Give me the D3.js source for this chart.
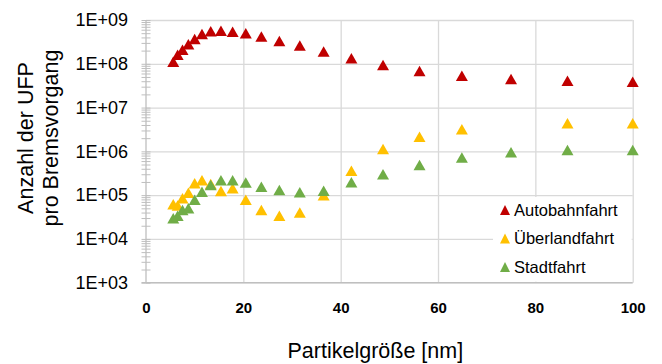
<!DOCTYPE html>
<html>
<head>
<meta charset="utf-8">
<script src="https://cdn.jsdelivr.net/npm/d3@7"></script>
<style>
	body{margin:0;background:#fff;}
	svg{display:block;font-family:"Liberation Sans",Arial,sans-serif;}
</style>
</head>
<body>
<div id="chart"></div>
<script>
// Partikelgrößen (Kanäle) in nm
const sizes = [5.6, 6.5, 7.5, 8.7, 10, 11.5, 13.3, 15.4, 17.8, 20.5, 23.7, 27.4, 31.6, 36.5, 42.2, 48.7, 56.2, 64.9, 75, 86.6, 100]

const autobahn = [1.12e8, 1.6e8, 2.1e8, 2.8e8, 3.7e8, 4.8e8, 5.5e8, 5.7e8, 5.4e8, 5.0e8, 4.2e8, 3.3e8, 2.6e8, 1.9e8, 1.33e8, 9.4e7, 6.8e7, 5.3e7, 4.5e7, 4.1e7, 3.9e7]
const ueberland = [6.2e4, 5.8e4, 8.5e4, 1.13e5, 1.86e5, 2.2e5, 1.8e5, 1.24e5, 1.43e5, 7.8e4, 4.6e4, 3.4e4, 4.0e4, 1.0e5, 3.6e5, 1.13e6, 2.16e6, 3.2e6, null, 4.4e6, 4.4e6]
const stadt = [2.95e4, 3.4e4, 4.6e4, 5.0e4, 7.8e4, 1.2e5, 1.7e5, 2.2e5, 2.2e5, 1.95e5, 1.56e5, 1.31e5, 1.16e5, 1.26e5, 1.96e5, 3.0e5, 4.9e5, 7.2e5, 9.5e5, 1.07e6, 1.07e6]

const seriesNames = ["Autobahnfahrt", "Überlandfahrt", "Stadtfahrt"]
const seriesColors = ["#C00000", "#FFC000", "#70AD47"]
const xTicks = [0, 20, 40, 60, 80, 100]
const yTicks = [1e3, 1e4, 1e5, 1e6, 1e7, 1e8, 1e9]

const W = 662, H = 364
const pLeft = 146, pRight = 632.7, pTop = 20, pBottom = 282.7

const svg = d3.select("#chart").append("svg")
	.attr("width", W).attr("height", H)

const x = d3.scaleLinear().domain([0, 100]).range([pLeft, pRight])
const y = d3.scaleLog().domain([1e3, 1e9]).range([pBottom, pTop])

// Dreieck, Bounding-Box um den Punkt zentriert
function tri(w, h){
	return "M0," + (-h/2) + "L" + (w/2) + "," + (h/2) + "L" + (-w/2) + "," + (h/2) + "Z"
}

// Gitter horizontal
svg.append("g")
	.attr("transform", "translate(" + pLeft + ",0)")
	.call(d3.axisLeft(y).tickValues(yTicks).tickSize(-(pRight - pLeft)).tickFormat(""))
	.call(g => g.select(".domain").remove())
	.call(g => g.selectAll("line").attr("stroke", "#d9d9d9").attr("stroke-width", 1.3))

// Gitter vertikal
svg.append("g")
	.attr("transform", "translate(0," + pBottom + ")")
	.call(d3.axisBottom(x).tickValues(xTicks.slice(1)).tickSize(-(pBottom - pTop)).tickFormat(""))
	.call(g => g.select(".domain").remove())
	.call(g => g.selectAll("line").attr("stroke", "#d9d9d9").attr("stroke-width", 1.3))

// Nebenstriche an der y-Achse
let minor = []
for (let e = 3; e < 9; e++){
	for (let m = 1; m < 10; m++) minor.push(m * Math.pow(10, e))
}
minor.push(1e9)
svg.append("g")
	.attr("transform", "translate(" + (pLeft + 4.5) + ",0)")
	.call(d3.axisLeft(y).tickValues(minor).tickSize(9).tickFormat(""))
	.call(g => g.select(".domain").remove())
	.call(g => g.selectAll("line").attr("stroke", "#bfbfbf").attr("stroke-width", 1))

// Achsenlinien
svg.append("line").attr("x1", pLeft).attr("x2", pLeft).attr("y1", pTop).attr("y2", pBottom)
	.attr("stroke", "#bfbfbf").attr("stroke-width", 1.3)
svg.append("line").attr("x1", pLeft - 4.5).attr("x2", pRight).attr("y1", pBottom).attr("y2", pBottom)
	.attr("stroke", "#bfbfbf").attr("stroke-width", 1.3)

// y-Beschriftung
svg.append("g")
	.attr("transform", "translate(" + (pLeft - 18) + ",0)")
	.call(d3.axisLeft(y).tickValues(yTicks).tickSize(0)
		.tickFormat(d => "1E+" + String(Math.round(Math.log10(d))).padStart(2, "0")))
	.call(g => g.select(".domain").remove())
	.call(g => g.selectAll("text").attr("font-size", 18).attr("fill", "#000")
		.attr("font-family", "Liberation Sans, Arial, sans-serif").attr("x", 0))

// x-Beschriftung
svg.append("g")
	.attr("transform", "translate(0," + (pBottom + 17) + ")")
	.call(d3.axisBottom(x).tickValues(xTicks).tickSize(0))
	.call(g => g.select(".domain").remove())
	.call(g => g.selectAll("text").attr("font-size", 15).attr("font-weight", "bold").attr("fill", "#000")
		.attr("font-family", "Liberation Sans, Arial, sans-serif"))

// Datenpunkte
const allSeries = [autobahn, ueberland, stadt]
allSeries.forEach((vals, i) => {
	const pts = sizes.map((s, k) => ({x: s, y: vals[k]})).filter(d => d.y != null)
	svg.append("g").selectAll("path")
		.data(pts)
		.enter()
		.append("path")
		.attr("d", tri(12, 10.5))
		.attr("transform", d => "translate(" + x(d.x) + "," + y(d.y) + ")")
		.attr("fill", seriesColors[i])
})

// Legende
const leg = svg.append("g")
leg.append("rect").attr("x", 493).attr("y", 197).attr("width", pRight - 493 - 1).attr("height", pBottom - 197 - 1)
	.attr("fill", "#fff")
seriesNames.forEach((n, i) => {
	const cy = 210 + i * 28.5
	leg.append("path").attr("d", tri(10, 10)).attr("transform", "translate(505," + cy + ")")
		.attr("fill", seriesColors[i])
	leg.append("text").attr("x", 514).attr("y", cy).attr("dy", "0.35em")
		.attr("font-size", 16.5).attr("fill", "#000").text(n)
})

// Achsentitel
svg.append("text").attr("x", (pLeft + pRight) / 2 - 14).attr("y", 358)
	.attr("text-anchor", "middle").attr("font-size", 21.5).attr("fill", "#000")
	.text("Partikelgröße [nm]")
svg.append("text").attr("transform", "translate(33,138) rotate(-90)")
	.attr("text-anchor", "middle").attr("font-size", 21.5).attr("fill", "#000")
	.text("Anzahl der UFP")
svg.append("text").attr("transform", "translate(58,138) rotate(-90)")
	.attr("text-anchor", "middle").attr("font-size", 21.5).attr("fill", "#000")
	.text("pro Bremsvorgang")
</script>
</body>
</html>
